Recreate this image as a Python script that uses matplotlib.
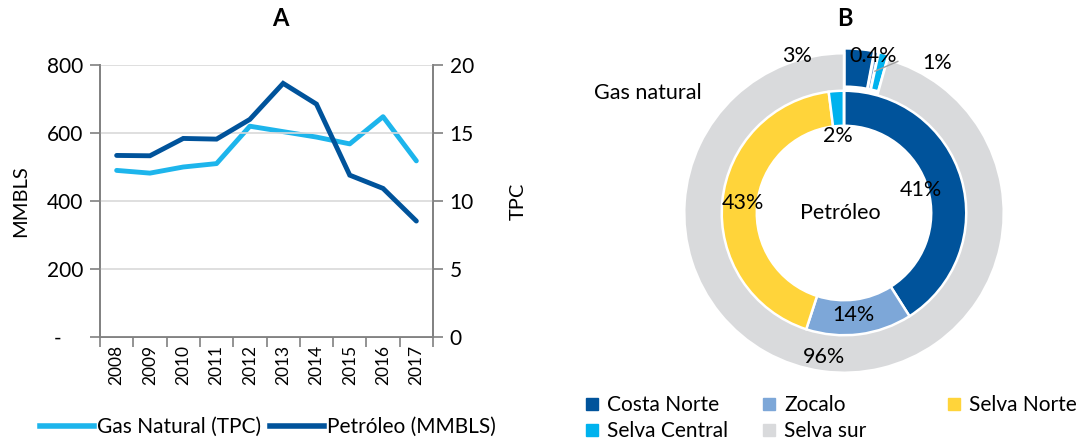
import matplotlib
matplotlib.use("Agg")
import matplotlib.pyplot as plt
from matplotlib.lines import Line2D
import numpy as np

plt.rcParams['font.family'] = ['Lato', 'DejaVu Sans']

years = ['2008', '2009', '2010', '2011', '2012', '2013', '2014', '2015', '2016', '2017']
petroleo = [534, 533, 584, 582, 640, 746, 685, 476, 437, 341]        # MMBLS, left axis
gas = [12.25, 12.05, 12.5, 12.75, 15.5, 15.1, 14.7, 14.2, 16.2, 12.95]  # TPC, right axis

regions = ['Costa Norte', 'Zocalo', 'Selva Norte', 'Selva Central', 'Selva sur']
colors = ['#00539B', '#7DA7D8', '#FFD43A', '#00B2EE', '#D9DADC']
petro_share = [41, 14, 43, 2, 0]
gas_share = [3, 0.4, 0, 1, 96]

C_GAS = '#1DB5EC'
C_PET = '#00539B'

W, H = 1083, 447
fig = plt.figure(figsize=(W / 100, H / 100), dpi=100)

def rect(l, t, r, b):
    return [l / W, 1 - b / H, (r - l) / W, (b - t) / H]

FS = 15

# ---------------- Panel A ----------------
ax = fig.add_axes(rect(100, 65, 433, 337))
x = np.arange(len(years))
ax.plot(x, petroleo, color=C_PET, lw=3.5, solid_capstyle='round', solid_joinstyle='miter', zorder=3)
ax.set_ylim(0, 800)
ax.set_xlim(-0.5, len(years) - 0.5)
ax.set_yticks([0, 200, 400, 600, 800])
ax.set_yticklabels(['-    ', '200', '400', '600', '800'], fontsize=FS)
ax.yaxis.grid(True, color='#D9D9D9', lw=1.2)
ax.set_axisbelow(True)
ax.set_xticks(np.arange(-0.5, len(years), 1.0))
ax.set_xticklabels([])
ax.set_xticks(x, minor=True)
ax.set_xticklabels(years, minor=True, rotation=90, fontsize=12.5)
ax.tick_params(axis='x', which='minor', length=0, pad=6)
ax.tick_params(axis='x', which='major', length=7, color='#808080', width=1.2)
ax.tick_params(axis='y', length=7, color='#808080', width=1.2, pad=5)
ax.spines['top'].set_visible(False)
for s in ['left', 'right', 'bottom']:
    ax.spines[s].set_color('#808080')
    ax.spines[s].set_linewidth(1.2)
ax.set_ylabel('MMBLS', fontsize=14.5, labelpad=13)

ax2 = ax.twinx()
ax2.plot(x, gas, color=C_GAS, lw=3.5, solid_capstyle='round', zorder=2)
ax2.set_ylim(0, 20)
ax2.set_yticks([0, 5, 10, 15, 20])
ax2.tick_params(axis='y', length=7, color='#808080', width=1.2, labelsize=FS, pad=5)
ax2.spines['top'].set_visible(False)
for s in ['left', 'right', 'bottom']:
    ax2.spines[s].set_color('#808080')
    ax2.spines[s].set_linewidth(1.2)
ax2.set_ylabel('TPC', fontsize=14.5, labelpad=26)
ax.set_zorder(ax2.get_zorder() + 1)
ax.patch.set_visible(False)

fig.text(280 / W, 1 - 19 / H, 'A', fontsize=17, fontweight='bold', ha='center', va='center')

leg_handles = [Line2D([], [], color=C_GAS, lw=4),
               Line2D([], [], color=C_PET, lw=4)]
fig.legend(leg_handles, ['Gas Natural (TPC)', 'Petróleo (MMBLS)'],
           loc='center', bbox_to_anchor=(268 / W, 1 - 427 / H), ncol=2,
           frameon=False, fontsize=FS, handlelength=2.6, handletextpad=0.15,
           columnspacing=0.4, borderaxespad=0)

# ---------------- Panel B ----------------
cx, cy, R = 844, 213, 163
axp = fig.add_axes(rect(cx - R, cy - R, cx + R, cy + R))

explode = [0.03, 0.03, 0.03, 0.03, 0.0]
wedges_out, _ = axp.pie(gas_share, colors=colors, radius=0.98, startangle=90,
                        counterclock=False, explode=explode,
                        wedgeprops=dict(width=0.235, edgecolor='white', linewidth=1.8))
wedges_in, _ = axp.pie(petro_share, colors=colors, radius=0.75, startangle=90,
                       counterclock=False,
                       wedgeprops=dict(width=0.215, edgecolor='white', linewidth=1.8))
axp.set_xlim(-1.0, 1.0)
axp.set_ylim(-1.0, 1.0)
axp.set_aspect('equal')
axp.axis('off')

def fmt(v):
    return f'{v:g}%'

PFS = 15.5
# outer ring labels
axp.text(-0.29, 0.965, fmt(gas_share[0]), fontsize=PFS, ha='center', va='center')
axp.text(0.18, 0.965, fmt(gas_share[1]), fontsize=PFS, ha='center', va='center')
axp.plot([0.19, 0.33], [0.87, 0.93], color='#A0A0A0', lw=1)
axp.text(0.57, 0.92, fmt(gas_share[3]), fontsize=PFS, ha='center', va='center')
axp.text(-0.12, -0.885, fmt(gas_share[4]), fontsize=PFS, ha='center', va='center')
# inner ring labels
axp.text(0.47, 0.14, fmt(petro_share[0]), fontsize=PFS, ha='center', va='center')
axp.text(0.06, -0.625, fmt(petro_share[1]), fontsize=PFS, ha='center', va='center')
axp.text(-0.62, 0.06, fmt(petro_share[2]), fontsize=PFS, ha='center', va='center')
axp.text(-0.04, 0.47, fmt(petro_share[3]), fontsize=PFS, ha='center', va='center')
axp.text(-0.02, 0.0, 'Petróleo', fontsize=PFS, ha='center', va='center')
fig.text(648 / W, 1 - 93 / H, 'Gas natural', fontsize=PFS, ha='center', va='center')

fig.text(845 / W, 1 - 19 / H, 'B', fontsize=17, fontweight='bold', ha='center', va='center')

# pie legend: three columns placed individually (row-major order as in Excel)
columns = [[0, 3], [1, 4], [2]]
col_x = [584, 761, 946]
for cols, xl in zip(columns, col_x):
    hs = [Line2D([], [], marker='s', ls='none', markersize=8, color=colors[i]) for i in cols]
    fig.legend(hs, [regions[i] for i in cols], loc='upper left',
               bbox_to_anchor=(xl / W, 1 - 395 / H), frameon=False, fontsize=FS,
               handlelength=0.8, handletextpad=0.3, labelspacing=0.28,
               borderaxespad=0, borderpad=0)

fig.savefig('out.png', dpi=100)
